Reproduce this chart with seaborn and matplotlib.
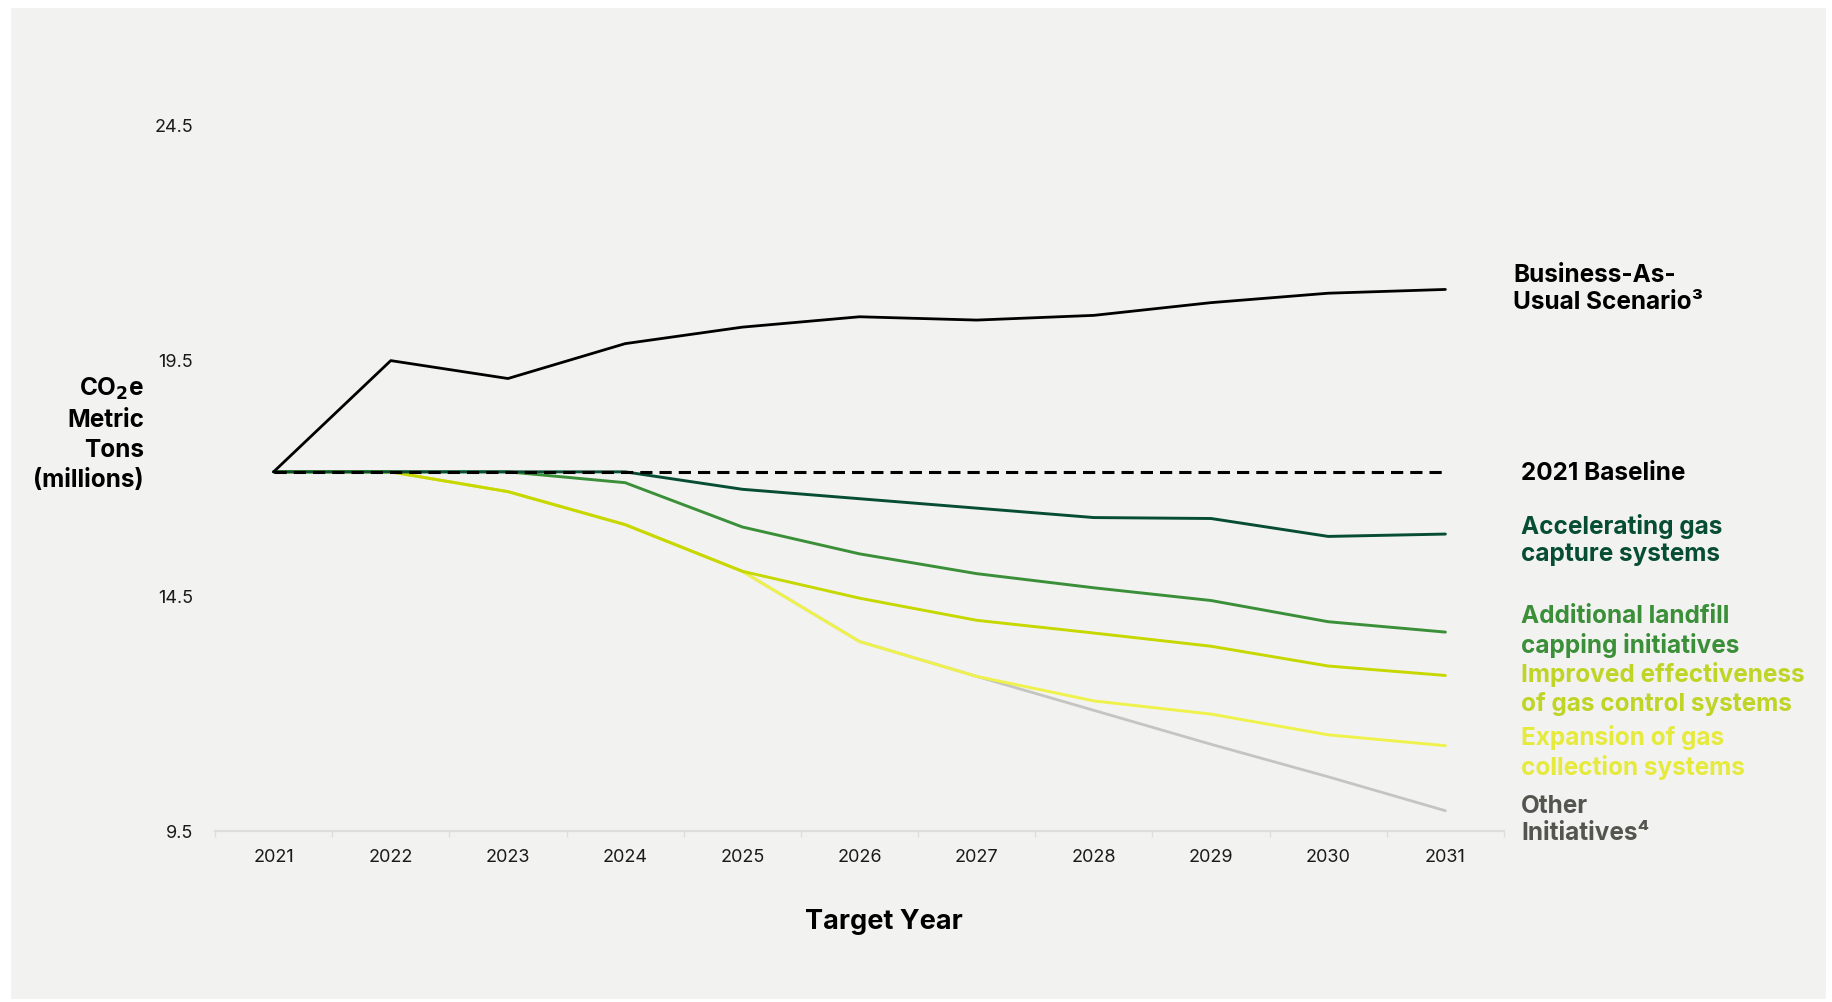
import numpy as np
import pandas as pd
import matplotlib
matplotlib.use("Agg")
import matplotlib.pyplot as plt
from matplotlib.patches import Rectangle
from matplotlib.ticker import FixedLocator
import seaborn as sns

# ---------------- data ----------------
years = [2021, 2022, 2023, 2024, 2025, 2026, 2027, 2028, 2029, 2030, 2031]
bau = [17.12, 19.48, 19.10, 19.84, 20.19, 20.41, 20.34, 20.44, 20.71, 20.91, 20.99]
baseline = [17.12] * 11
accelerating = [17.12, 17.12, 17.12, 17.12, 16.75, 16.55, 16.35, 16.15, 16.13, 15.75, 15.80]
additional = [17.12, 17.12, 17.12, 16.89, 15.95, 15.38, 14.96, 14.66, 14.39, 13.94, 13.72]
improved = [17.12, 17.12, 16.70, 16.00, 15.01, 14.44, 13.97, 13.70, 13.42, 13.00, 12.80]
expansion = [17.12, 17.12, 16.70, 16.00, 15.01, 13.52, 12.78, 12.26, 11.98, 11.54, 11.31]
other = [17.12, 17.12, 16.70, 16.00, 15.01, 13.52, 12.78, 12.06, 11.34, 10.65, 9.93]
y_ticks = [9.5, 14.5, 19.5, 24.5]

labels = ["Business-As-\nUsual Scenario³", "2021 Baseline",
          "Accelerating gas\ncapture systems", "Additional landfill\ncapping initiatives",
          "Improved effectiveness\nof gas control systems", "Expansion of gas\ncollection systems",
          "Other\nInitiatives⁴"]

BG = "#f2f2f0"
sns.set_theme(style="white")
plt.rcParams["font.family"] = ["Inter", "DejaVu Sans"]

W, H = 1832, 1003
fig = plt.figure(figsize=(18.32, 10.03), dpi=100)
fig.patch.set_facecolor("white")
bgrect = Rectangle((11 / W, 1 - 1000 / H), (1826 - 11) / W, (1000 - 9) / H,
                   transform=fig.transFigure, facecolor=BG, edgecolor="none", zorder=-10)
fig.add_artist(bgrect)

ax = fig.add_axes([215 / W, 171 / H, (1504 - 215) / W, (878 - 171) / H])
ax.set_zorder(5)
ax.set_facecolor(BG)
ax.patch.set_alpha(0)

series = [
    (other, "#c4c4c0", 2.0),
    (expansion, "#eef24a", 2.1),
    (improved, "#c6d800", 2.1),
    (additional, "#3a8f38", 2.1),
    (accelerating, "#064d33", 2.1),
    (bau, "#000000", 2.0),
]
for vals, col, lw in series:
    df = pd.DataFrame({"year": years, "value": vals})
    sns.lineplot(data=df, x="year", y="value", ax=ax, color=col, linewidth=lw,
                 legend=False, sort=False)

dfb = pd.DataFrame({"year": years, "value": baseline})
sns.lineplot(data=dfb, x="year", y="value", ax=ax, color="black", linewidth=2.2,
             legend=False)
ax.lines[-1].set_dashes((4.0, 2.3))

ax.set_xlim(years[0] - 0.5, years[-1] + 0.5)
ax.set_ylim(9.5, 24.5)
ax.set_yticks(y_ticks)
ax.set_yticklabels([f"{v:.1f}" for v in y_ticks])
ax.set_xticks(years)
ax.set_xticklabels([str(y) for y in years])
ax.xaxis.set_minor_locator(FixedLocator([y - 0.5 for y in years] + [years[-1] + 0.5]))

for s in ["top", "right", "left"]:
    ax.spines[s].set_visible(False)
ax.spines["bottom"].set_color("#dededc")
ax.spines["bottom"].set_linewidth(1.6)

ax.tick_params(axis="x", which="major", length=0, pad=12, labelsize=13, colors="#1a1a1a")
ax.tick_params(axis="x", which="minor", length=4, width=1.0, color="#dededc", bottom=True)
ax.tick_params(axis="y", length=0, pad=16, labelsize=13, colors="#1a1a1a")

ax.set_xlabel("Target Year", fontsize=19.5, fontweight="bold", color="black")
ax.xaxis.set_label_coords((884 - 215) / (1504 - 215), -(922 - 832) / (878 - 171))
ax.xaxis.label.set_va("center")
ax.set_ylabel("")

fig.text(144 / W, 1 - 434 / H, "CO$_\\mathbf{2}$e\nMetric\nTons\n(millions)", ha="right", va="center",
         fontsize=17.5, fontweight="bold", color="black", linespacing=1.4)

label_specs = [
    (labels[0], 1513, 289, "#000000"),
    (labels[1], 1521, 474, "#000000"),
    (labels[2], 1521, 540, "#064d33"),
    (labels[3], 1521, 632, "#3a8f38"),
    (labels[4], 1521, 689, "#bfd424"),
    (labels[5], 1521, 753, "#e6ea3c"),
    (labels[6], 1521, 820, "#55554f"),
]
for txt, x, y, col in label_specs:
    fig.text(x / W, 1 - y / H, txt, ha="left", va="center", fontsize=17.5,
             fontweight="bold", color=col, linespacing=1.25)

fig.savefig("out.png", dpi=100, facecolor=fig.get_facecolor())
